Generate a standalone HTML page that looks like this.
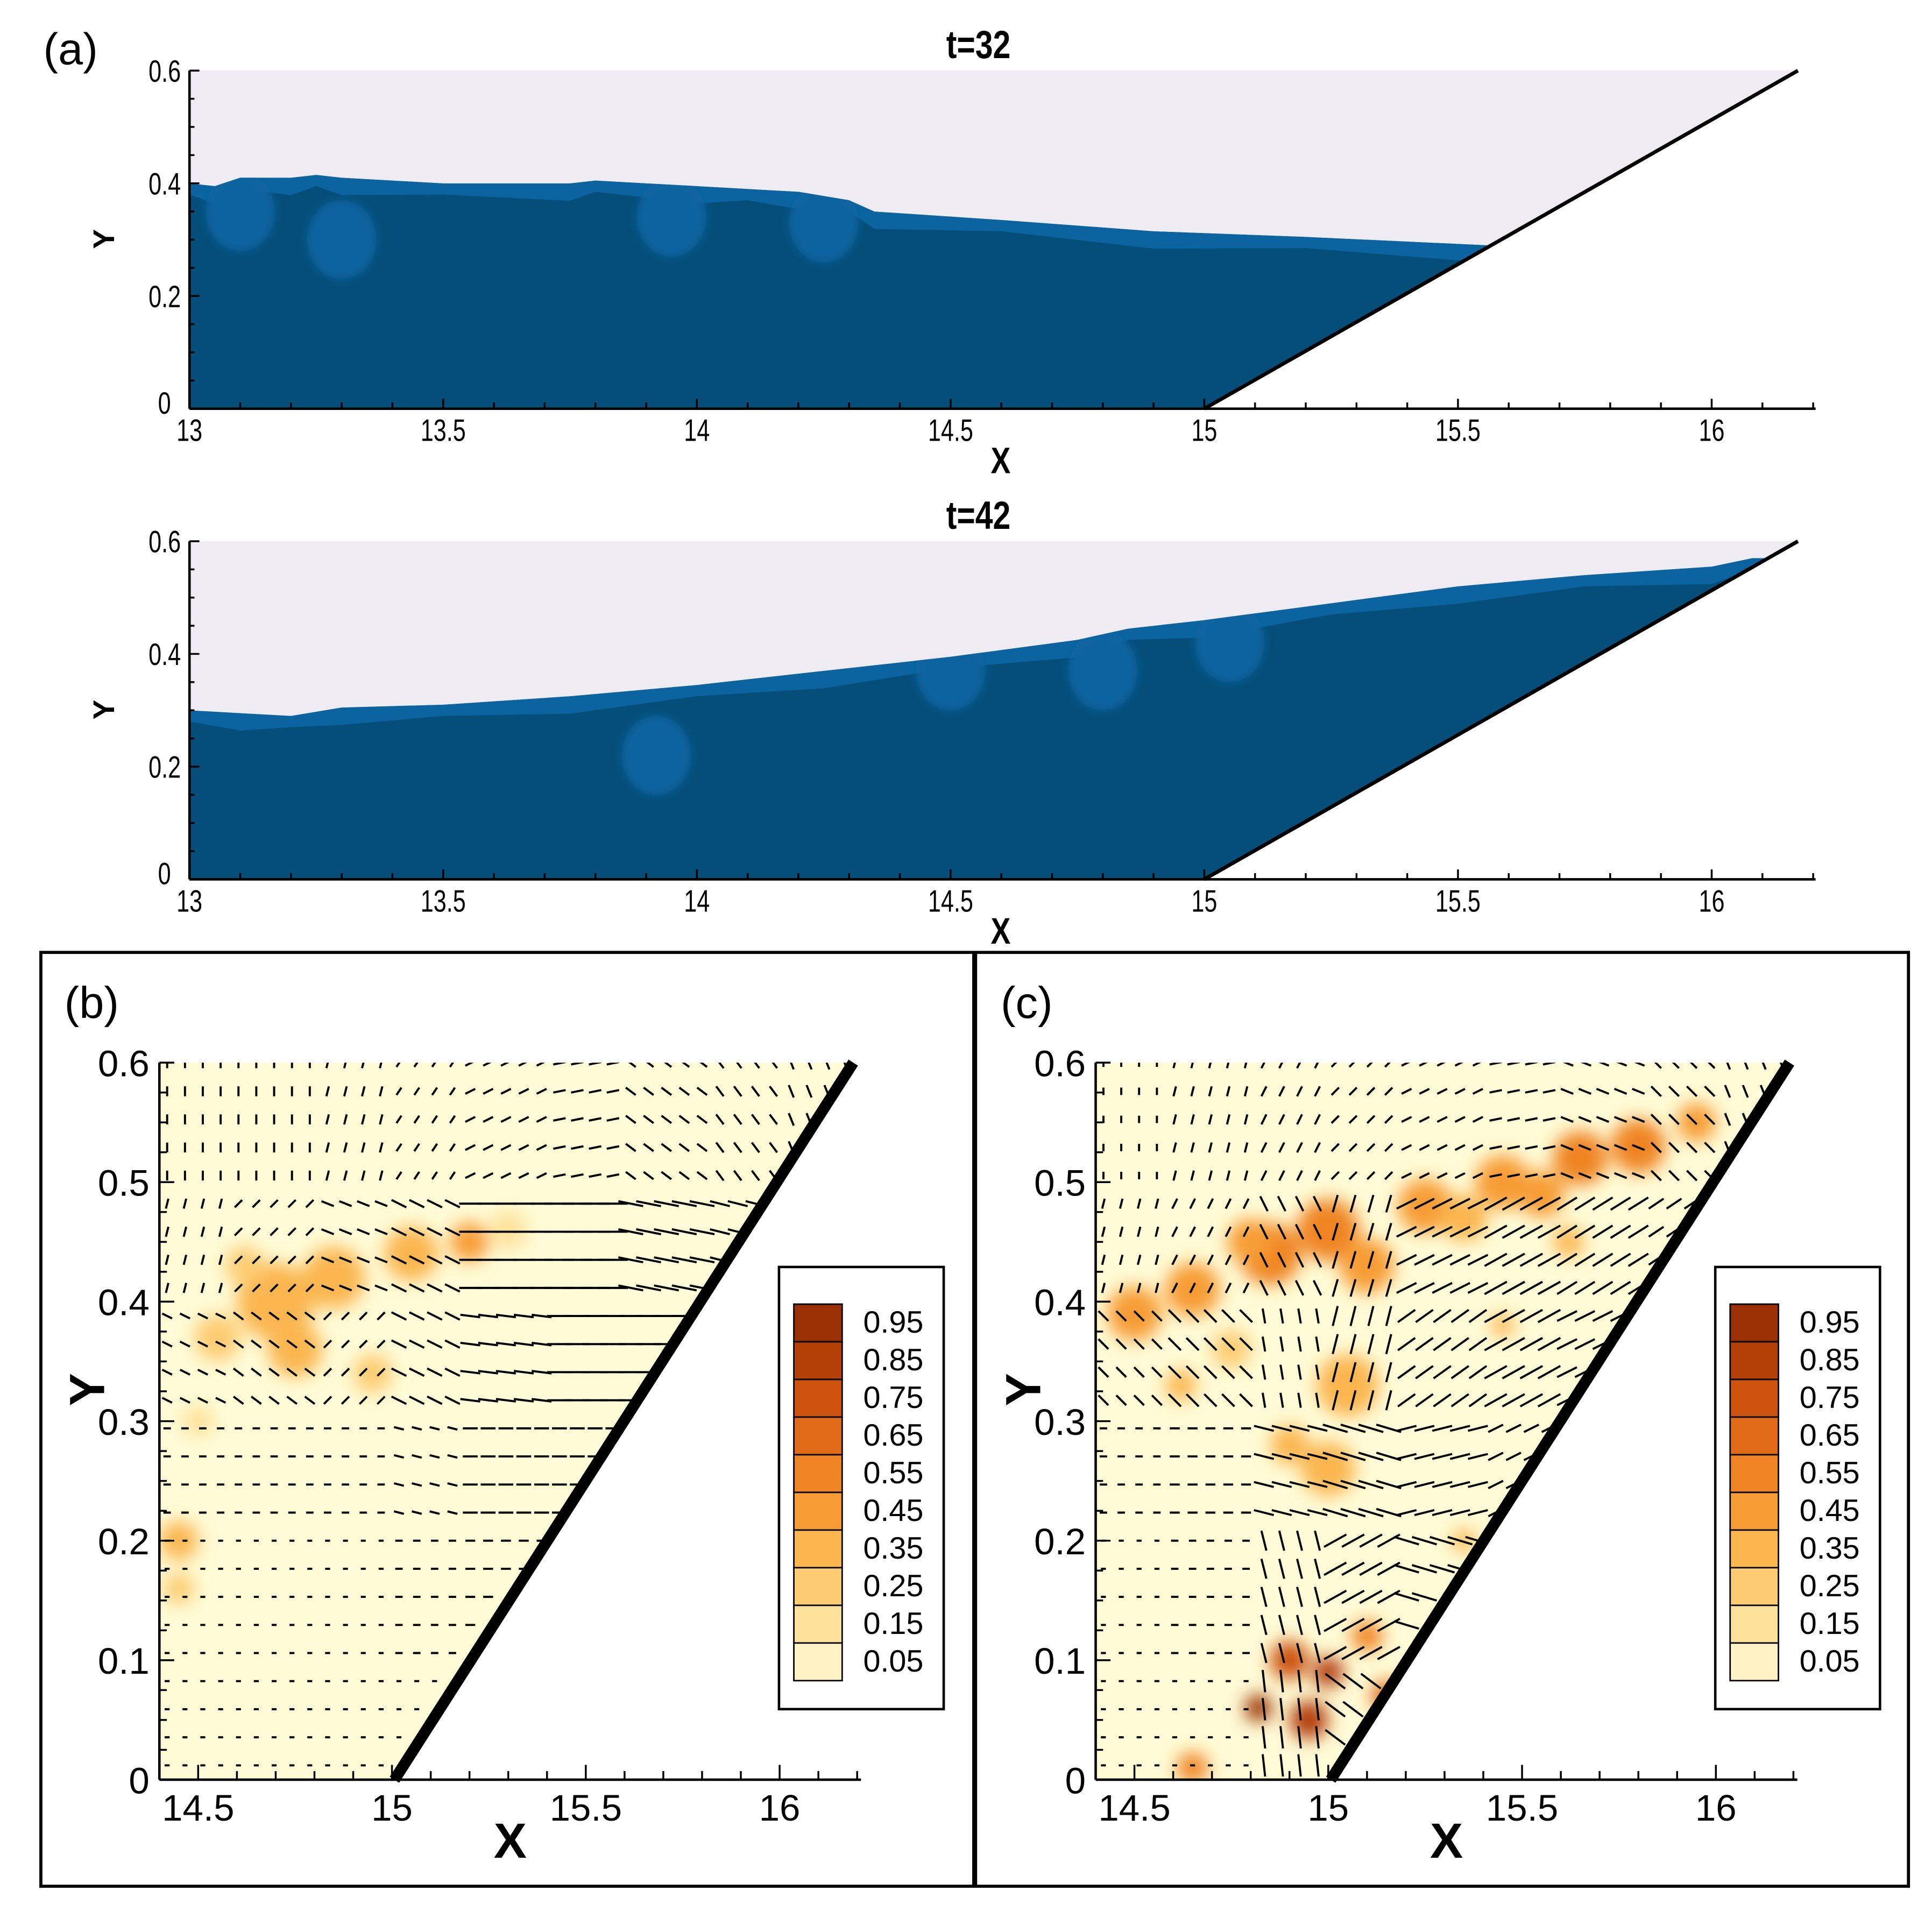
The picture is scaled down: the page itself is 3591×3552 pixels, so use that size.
<!DOCTYPE html>
<html><head><meta charset="utf-8"><style>
html,body{margin:0;padding:0;background:#fff}
svg{display:block}
text{font-family:"Liberation Sans",sans-serif}
</style></head><body>
<svg id="fig" xmlns="http://www.w3.org/2000/svg" width="3591" height="3552" viewBox="0 0 1560 1543" preserveAspectRatio="none">
<defs>
<filter id="blur" x="-50%" y="-50%" width="200%" height="200%"><feGaussianBlur stdDeviation="7"/></filter>
<filter id="blurA" x="-50%" y="-50%" width="200%" height="200%"><feGaussianBlur stdDeviation="3"/></filter>
</defs>
<rect width="1560" height="1543" fill="#fff"/>
<g id="root"></g>
</svg>
<script>
// ---------- Data ----------
const surf32X=[13,13.05,13.1,13.2,13.25,13.3,13.5,13.75,13.8,14,14.1,14.2,14.3,14.35,14.6,14.9,15.2,15.56];
const surf32Y=[0.40,0.395,0.41,0.41,0.415,0.41,0.40,0.40,0.405,0.395,0.39,0.385,0.37,0.35,0.335,0.315,0.305,0.29];
const surf42X=[13,13.1,13.2,13.3,13.5,13.75,14,14.25,14.5,14.75,14.85,15,15.25,15.5,15.75,16.0,16.08];
const surf42Y=[0.30,0.295,0.29,0.305,0.31,0.325,0.345,0.37,0.395,0.425,0.445,0.46,0.49,0.52,0.54,0.555,0.57];
const lightA32X=[13.3,13.95,14.25,13.1];
const lightA32Y=[0.30,0.34,0.33,0.35];
const lightA42X=[13.92,14.8,14.5,15.05];
const lightA42Y=[0.22,0.37,0.37,0.42];
const xTicksA=[13,13.5,14,14.5,15,15.5,16];
const yTicksA=[0,0.2,0.4,0.6];
const xTicksB=[14.5,15,15.5,16];
const yTicksB=[0,0.1,0.2,0.3,0.4,0.5,0.6];
const legendLevels=[0.95,0.85,0.75,0.65,0.55,0.45,0.35,0.25,0.15,0.05];
const legendColors=["#9a3004","#b44008","#cc520e","#e06a18","#ef8424","#f79c34","#fbb650","#fdcc72","#fee29c","#fff3c6"];
const blobsBX=[14.7,14.85,15.05,15.2,14.75,14.55,14.45,14.5,14.95,15.3,14.45,14.62];
const blobsBY=[0.40,0.42,0.44,0.45,0.36,0.37,0.20,0.30,0.34,0.46,0.16,0.43];
const blobsBR=[0.1,0.08,0.07,0.05,0.07,0.06,0.05,0.04,0.05,0.05,0.04,0.05];
const blobsBV=[0.3,0.35,0.3,0.45,0.3,0.25,0.35,0.15,0.2,0.15,0.25,0.2];
const blobsCX=[14.5,14.65,14.85,15.0,15.1,15.25,15.45,15.65,15.8,15.95,15.05,15.0,14.75,14.62,15.45,15.62,14.82,14.95,14.9,15.0,15.1,14.65,15.35,15.15,14.9,15.35,15.55,14.8];
const blobsCY=[0.39,0.41,0.44,0.46,0.43,0.48,0.50,0.52,0.53,0.55,0.33,0.26,0.36,0.33,0.38,0.45,0.06,0.05,0.10,0.09,0.12,0.01,0.20,0.07,0.28,0.47,0.49,0.45];
const blobsCR=[0.07,0.07,0.08,0.08,0.07,0.07,0.07,0.07,0.07,0.05,0.08,0.07,0.05,0.04,0.03,0.04,0.035,0.05,0.05,0.04,0.04,0.04,0.03,0.04,0.05,0.06,0.06,0.06];
const blobsCV=[0.45,0.45,0.5,0.55,0.45,0.4,0.45,0.55,0.5,0.45,0.35,0.3,0.25,0.3,0.35,0.35,0.95,0.85,0.75,0.8,0.55,0.55,0.35,0.65,0.3,0.35,0.4,0.4];
const fieldRowsY=[0.55,0.45,0.35,0.25,0.15,0.05];
const fieldColsX=[14.5,14.7,14.9,15.1,15.3,15.5,15.7,15.9,16.1];
const uB=[[0,0,1,2,4,5,4,3,2],[1,3,5,6,9,12,10,8,6],[4,4,3,6,8,10,10,8,0],[3,3,3,4,6,6,0,0,0],[2,2,2,3,4,0,0,0,0],[2,2,2,2,0,0,0,0,0]];
const vB=[[4,4,4,3,2,1,-3,-4,-5],[4,3,-2,-3,0,0,-2,-2,-3],[-2,-3,3,-3,-1,0,0,0,0],[0,0,0,-1,0,0,0,0,0],[0,0,0,0,0,0,0,0,0],[0,0,0,0,0,0,0,0,0]];
const uC=[[0,1,2,3,4,5,5,4,2],[1,2,3,-2,8,9,8,6,4],[4,-5,1,-2,7,9,8,5,3],[3,4,8,10,8,6,3,0,0],[2,3,-2,9,10,5,0,0,0],[2,2,-1,8,5,0,0,0,0]];
const vC=[[3,4,4,3,2,1,-2,-4,-5],[4,4,-6,-7,4,5,5,4,3],[-4,5,-6,-8,5,5,4,2,1],[0,0,-2,-3,2,3,2,0,0],[0,0,8,5,-3,2,0,0,0],[0,0,9,-6,5,0,0,0,0]];

const NS="http://www.w3.org/2000/svg";
const root=document.getElementById('root');
function mk(tag,attrs,parent){const e=document.createElementNS(NS,tag);for(const k in attrs)e.setAttribute(k,attrs[k]);(parent||root).appendChild(e);return e;}
function txt(s,x,y,size,parent,extra){const e=mk('text',Object.assign({x:x,y:y,'font-size':size,fill:'#000'},extra||{}),parent);e.textContent=s;return e;}

function panelA(y0,surfX,surfY,lx,ly,title,id){
  const g=mk('g',{});
  
  
  const X=x=>153+(x-13)*409.7, Y=y=>y0+273-y*455;
  const wallX=y=>15+y*1.95;
  mk('rect',{x:153,y:Y(0.6),width:X(16.17)-153,height:273,fill:'#eeebf3'},g);
  mk('polygon',{points:`${X(15)},${Y(0)} ${X(16.17)},${Y(0.6)} ${X(16.3)},${Y(0.6)} ${X(16.3)},${Y(0)}`,fill:'#fff'},g);
  const cid='clipA'+id;
  const cp=mk('clipPath',{id:cid},g);
  let pts=surfX.map((x,i)=>`${X(x)},${Y(surfY[i])}`);
  const lastY=surfY[surfY.length-1];
  const poly=pts.join(' ')+` ${X(wallX(lastY))},${Y(lastY)} ${X(15)},${Y(0)} ${X(13)},${Y(0)}`;
  mk('polygon',{points:poly},cp);
  const wg=mk('g',{'clip-path':`url(#${cid})`},g);
  const light=mk('polygon',{points:poly,fill:'#0b64a0'},wg);
  
  
  let pts2=surfX.map((x,i)=>`${X(x)},${Y(surfY[i]-0.02)+(i%2?5:0)}`);
  const dark=mk('polygon',{points:pts2.join(' ')+` ${X(wallX(lastY-0.03))},${Y(lastY-0.03)} ${X(15)},${Y(0)} ${X(13)},${Y(0)}`,fill:'#054e7a'},wg);
  
  
  const lg=mk('g',{filter:'url(#blurA)'},wg);
  lx.forEach((x,i)=>{const e=mk('ellipse',{cx:X(x),cy:Y(ly[i]),rx:28,ry:32,fill:'#0b64a0'},lg);
    });
  const w=mk('line',{x1:X(15),y1:Y(0),x2:X(16.17),y2:Y(0.6),stroke:'#000','stroke-width':3},g);
  
  
  mk('line',{x1:153,y1:Y(0.6),x2:153,y2:Y(0),stroke:'#000','stroke-width':2},g);
  mk('line',{x1:153,y1:Y(0),x2:1466,y2:Y(0),stroke:'#000','stroke-width':2},g);
  for(let v=0;v<=0.601;v+=0.05){const L=(Math.round(v*100)%20===0)?8:4;mk('line',{x1:153,y1:Y(v),x2:153+L,y2:Y(v),stroke:'#000','stroke-width':1.5},g);}
  for(let v=13;v<=16.201;v+=0.1){const L=(Math.round(v*10)%5===0)?8:5;mk('line',{x1:X(v),y1:Y(0),x2:X(v),y2:Y(0)-L,stroke:'#000','stroke-width':1.5},g);}
  yTicksA.forEach(v=>{const t=txt(String(v),0,Y(v)+(v===0?4:9),25,g,{'text-anchor':'end',transform:'scale(0.75,1)'});t.setAttribute('x',(v===0?138:146)/0.75);
    });
  xTicksA.forEach(v=>{const t=txt(String(v),0,Y(0)+26,25,g,{'text-anchor':'middle',transform:'scale(0.75,1)'});t.setAttribute('x',(X(v))/0.75);
    });
  const tt=txt(title,0,y0-10,32,g,{'text-anchor':'middle','font-weight':'bold',transform:'scale(0.8,1)'});tt.setAttribute('x',790/0.8);
  
  const xl=txt('X',0,Y(0)+52,30,g,{'text-anchor':'middle','font-weight':'bold',transform:'scale(0.8,1)'});xl.setAttribute('x',808/0.8);
  
  const yl=txt('Y',0,0,24,g,{'text-anchor':'middle','font-weight':'bold',transform:`translate(92,${y0+136}) rotate(-90)`});
  
}
panelA(57,surf32X,surf32Y,lightA32X,lightA32Y,'t=32','t32');
panelA(437,surf42X,surf42Y,lightA42X,lightA42Y,'t=42','t42');
const la=txt('(a)',35,52,36,root,{'font-family':'Liberation Serif,serif'});


const fr=mk('rect',{x:33,y:769,width:1508,height:754,fill:'none',stroke:'#000','stroke-width':2.5});

mk('line',{x1:787,y1:769,x2:787,y2:1523,stroke:'#000','stroke-width':4});

function colorFor(v){let i=Math.min(9,Math.max(0,Math.floor((0.999-v)*10)));return legendColors[i];}

function panelBC(off,bx,by,br,bv,U,V,id){
  const g=mk('g',{});
  
  
  const X=x=>off+160+(x-14.5)*313, Y=y=>1437-y*965;
  const wallX=y=>15+y*(1.19/0.6);
  const cid='clip'+id;
  const cp=mk('clipPath',{id:cid},g);
  mk('polygon',{points:`${X(14.4)},${Y(0)} ${X(15)},${Y(0)} ${X(16.19)},${Y(0.6)} ${X(14.4)},${Y(0.6)}`},cp);
  const field=mk('g',{'clip-path':`url(#${cid})`},g);
  mk('rect',{x:X(14.4),y:Y(0.6),width:X(16.2)-X(14.4),height:Y(0)-Y(0.6),fill:'#fffbd6'},field);
  const bg=mk('g',{filter:'url(#blur)'},field);
  bx.forEach((x,i)=>{const c=mk('circle',{cx:X(x),cy:Y(by[i]),r:br[i]*313,fill:colorFor(bv[i])},bg);
    });
  const vg=mk('g',{stroke:'#000','stroke-width':1.7,'stroke-linecap':'butt'},field);
  for(let y=0.012;y<0.6;y+=0.0235){for(let x=14.42;x<16.2;x+=0.046){
    if(x>wallX(y)-0.01)continue;
    let ri=0,bd=9;fieldRowsY.forEach((fy,k)=>{if(Math.abs(fy-y)<bd){bd=Math.abs(fy-y);ri=k;}});
    let ci=0,cd=9;fieldColsX.forEach((fx,k)=>{if(Math.abs(fx-x)<cd){cd=Math.abs(fx-x);ci=k;}});
    let u=U[ri][ci]*2,v=V[ri][ci]*2;
    if(u===0&&v===0)u=3;
    const l=mk('line',{x1:X(x)-u/2,y1:Y(y)+v/2,x2:X(x)+u/2,y2:Y(y)-v/2},vg);
    
    
  }}
  const w=mk('line',{x1:X(15)+2,y1:Y(0),x2:X(16.19),y2:Y(0.6),stroke:'#000','stroke-width':9},g);
  
  mk('line',{x1:X(14.4),y1:Y(0.6),x2:X(14.4),y2:Y(0),stroke:'#000','stroke-width':2},g);
  mk('line',{x1:X(14.4),y1:Y(0),x2:X(16.21),y2:Y(0),stroke:'#000','stroke-width':2},g);
  for(let v=0;v<=0.601;v+=0.025){const L=(Math.round(v*1000)%100===0)?12:6;mk('line',{x1:X(14.4),y1:Y(v),x2:X(14.4)+L,y2:Y(v),stroke:'#000','stroke-width':1.5},g);}
  for(let v=14.4;v<=16.21;v+=0.1){const L=(Math.round(v*10)%5===0)?12:7;mk('line',{x1:X(v),y1:Y(0),x2:X(v),y2:Y(0)-L,stroke:'#000','stroke-width':1.5},g);}
  yTicksB.forEach(v=>{const t=txt(String(v),X(14.4)-8,Y(v)+11,30,g,{'text-anchor':'end'});});
  xTicksB.forEach(v=>{const t=txt(String(v),X(v),Y(0)+33,30,g,{'text-anchor':'middle'});});
  const xl=txt('X',off+412,1500,40,g,{'text-anchor':'middle','font-weight':'bold'});
  const yl=txt('Y',0,0,40,g,{'text-anchor':'middle','font-weight':'bold',transform:`translate(${off+84},1122) rotate(-90)`});
  const pl=txt('('+id+')',off+52,822,36,g,{'font-family':'Liberation Serif,serif'});
  const lg=mk('g',{},g);
  
  
  mk('rect',{x:off+629,y:1023,width:133,height:357,fill:'#fff',stroke:'#000','stroke-width':2},lg);
  const top=1053,h=304/legendLevels.length;
  legendLevels.forEach((lv,i)=>{
    const r=mk('rect',{x:off+641,y:top+i*h,width:39,height:h,fill:legendColors[i],stroke:'#000','stroke-width':1.2},lg);
    
    const t=txt(lv.toFixed(2),off+697,top+i*h+23,25,lg);
  });
}
panelBC(0,blobsBX,blobsBY,blobsBR,blobsBV,uB,vB,'b');
panelBC(756,blobsCX,blobsCY,blobsCR,blobsCV,uC,vC,'c');
</script>
</body></html>
